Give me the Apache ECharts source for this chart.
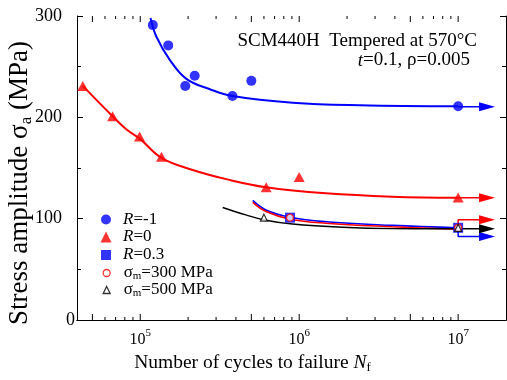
<!DOCTYPE html>
<html>
<head>
<meta charset="utf-8">
<script src="https://cdn.jsdelivr.net/npm/echarts@6/dist/echarts.min.js"></script>
<style>
  html, body {margin: 0; padding: 0; background: #fff;}
  #main {width: 507px; height: 380px;}
</style>
</head>
<body>
<div id="main"></div>
<script>
const FONT = 'Liberation Serif';
const BLUE = '#0000ff';
const RED = '#ff0000';

// measured points [cycles, stress amplitude MPa]
const rm1Points = [[1.2e5, 291], [1.5e5, 271], [1.92e5, 231], [2.2e5, 241], [3.8e5, 221], [5.0e5, 236], [1e7, 211]];
const r0Points = [[4.35e4, 231], [6.7e4, 201], [9.9e4, 181], [1.36e5, 161], [6.2e5, 131], [1e6, 141], [1e7, 121]];
const r03Points = [[8.75e5, 101], [1e7, 91]];
const sm300Points = [[8.75e5, 101], [1e7, 91]];
const sm500Points = [[6.0e5, 101], [1e7, 91]];

// fitted curves
const rm1Curve = [[1.16e5, 298], [1.26e5, 280], [1.53e5, 257], [1.95e5, 238], [2.72e5, 228], [3.81e5, 221], [9.1e5, 214.5], [2.4e6, 212], [1e7, 211]];
const r0Curve = [[4.35e4, 231], [6.7e4, 201], [8.2e4, 188], [1.0e5, 178.5], [1.36e5, 160], [2.14e5, 148], [3.47e5, 139], [6.18e5, 131], [1.47e6, 125], [3.85e6, 121.7], [1e7, 120.7]];
const r03Curve = [[5.1e5, 118], [6.18e5, 108.6], [8.75e5, 101.4], [1.47e6, 97], [3.85e6, 93.4], [1e7, 91]];
const sm300Curve = [[5.1e5, 116], [6.18e5, 107], [8.75e5, 99.5], [1.47e6, 95.5], [3.85e6, 92], [1e7, 89.5]];
const sm500Curve = [[3.3e5, 111], [4.62e5, 103.7], [6.03e5, 98.7], [9.08e5, 94.7], [1.87e6, 91.5], [3.85e6, 90.2], [1e7, 90]];

// run-out arrows
const arrowTip = 1.52e7;
const rm1Arrow = [[1e7, 210.5], [arrowTip, 210.5]];
const r0Arrow = [[1e7, 120.7], [arrowTip, 120.7]];
const r03Arrow = [[1e7, 91], [1e7, 82.5], [arrowTip, 82.5]];
const sm300Arrow = [[1e7, 91], [1e7, 99], [arrowTip, 99]];
const sm500Arrow = [[1e7, 90], [arrowTip, 90]];

// x ticks
const xMajorTicks = [5e4, 1e5, 5e5, 1e6, 5e6, 1e7];
const xMinorTicks = [6e4, 7e4, 8e4, 9e4, 2e5, 3e5, 4e5, 6e5, 7e5, 8e5, 9e5, 2e6, 3e6, 4e6, 6e6, 7e6, 8e6, 9e6];

const legendText = {
  'R=-1': '{i|R}=-1',
  'R=0': '{i|R}=0',
  'R=0.3': '{i|R}=0.3',
  'σm=300 MPa': 'σ{s|m}=300 MPa',
  'σm=500 MPa': 'σ{s|m}=500 MPa'
};
const legendRows = [['R=-1', 10], ['R=0', 11], ['R=0.3', 10], ['σm=300 MPa', 7], ['σm=500 MPa', 7]];
const legendTops = [211, 228.5, 246.5, 264.5, 281.5];

const richLegend = {
  i: {fontFamily: FONT, fontSize: 17, fontStyle: 'italic', color: '#000', lineHeight: 20},
  s: {fontFamily: FONT, fontSize: 11, color: '#000', lineHeight: 11, verticalAlign: 'bottom'}
};

const chart = echarts.init(document.getElementById('main'));

const lineSeries = (name, data, color, width) => ({
  name, type: 'line', data, smooth: 0.4, showSymbol: false, silent: true,
  lineStyle: {color, width}, itemStyle: {color}, z: 2
});

const arrowSeries = (name, data, color) => ({
  name, type: 'line', silent: true, z: 2,
  data: data.map((p, i) => i === data.length - 1
    ? {value: p, symbol: 'triangle', symbolSize: [9, 16], symbolRotate: -90}
    : {value: p, symbol: 'none'}),
  lineStyle: {color, width: 1.5}, itemStyle: {color}
});

chart.setOption({
  animation: false,
  grid: {left: 77, right: 1, top: 16, bottom: 60, containLabel: false, outerBoundsMode: 'none'},
  xAxis: [
    {
      type: 'log', logBase: 10, min: 4e4, max: 2e7, position: 'bottom',
      axisLine: {lineStyle: {color: '#000', width: 1}},
      axisTick: {show: false}, splitLine: {show: false}, minorTick: {show: false},
      axisLabel: {
        margin: 8,
        formatter(v) {
          const e = Math.log10(v);
          if (Math.abs(e - Math.round(e)) < 1e-6 && v > 4.1e4 && v < 1.9e7) {
            return '{b|10}{p|' + Math.round(e) + '}';
          }
          return '';
        },
        rich: {
          b: {fontFamily: FONT, fontSize: 16, color: '#000', lineHeight: 20, verticalAlign: 'bottom'},
          p: {fontFamily: FONT, fontSize: 11, color: '#000', lineHeight: 12, verticalAlign: 'top'}
        }
      },
      name: '{t|Number of cycles to failure }{i|N}{s|f}',
      nameLocation: 'middle', nameGap: 17,
      nameTextStyle: {
        padding: [0, 78, 0, 0],
        rich: {
          t: {fontFamily: FONT, fontSize: 19.5, color: '#000', lineHeight: 22},
          i: {fontFamily: FONT, fontSize: 19.5, fontStyle: 'italic', color: '#000', lineHeight: 22},
          s: {fontFamily: FONT, fontSize: 13, color: '#000', lineHeight: 13, verticalAlign: 'bottom'}
        }
      }
    },
    {
      type: 'log', logBase: 10, min: 4e4, max: 2e7, position: 'top',
      axisLine: {lineStyle: {color: '#000', width: 1}},
      axisTick: {show: false}, axisLabel: {show: false}, splitLine: {show: false}
    }
  ],
  yAxis: [
    {
      type: 'value', min: 0, max: 300, interval: 100, position: 'left',
      axisLine: {show: true, lineStyle: {color: '#000', width: 1}},
      axisTick: {show: true, inside: true, length: 6, lineStyle: {color: '#000'}},
      minorTick: {show: true, splitNumber: 2, length: 4, lineStyle: {color: '#000'}},
      splitLine: {show: false},
      axisLabel: {
        margin: 2,
        formatter: v => v === 0 ? '{z|0}' : '{p|' + v + '}',
        rich: {
          p: {fontFamily: FONT, fontSize: 18, color: '#000', width: 40, align: 'left'},
          z: {fontFamily: FONT, fontSize: 18, color: '#000'}
        }
      },
      name: '{t|Stress amplitude σ}{s|a}{t| (MPa)}',
      nameLocation: 'middle', nameGap: 42, nameRotate: 90, nameMoveOverlap: false,
      nameTextStyle: {
        padding: [0, 30, 0, 0],
        rich: {
          t: {fontFamily: FONT, fontSize: 27, color: '#000', lineHeight: 30},
          s: {fontFamily: FONT, fontSize: 17, color: '#000', lineHeight: 17, verticalAlign: 'bottom'}
        }
      }
    },
    {
      type: 'value', min: 0, max: 300, interval: 100, position: 'right',
      axisLine: {show: true, lineStyle: {color: '#000', width: 1}},
      axisTick: {show: true, inside: true, length: 6, lineStyle: {color: '#000'}},
      minorTick: {show: true, splitNumber: 2, length: 4, lineStyle: {color: '#000'}},
      splitLine: {show: false}, axisLabel: {show: false}
    }
  ],
  legend: legendRows.map(([name, size], k) => ({
    data: [{name, itemStyle: name.startsWith('σ') ? {borderWidth: 1.3} : {}}],
    orient: 'vertical', left: 106 - size / 2, top: legendTops[k], padding: 0,
    itemWidth: size, itemHeight: size, selectedMode: false,
    formatter: n => legendText[n],
    textStyle: {fontFamily: FONT, fontSize: 17, color: '#000', padding: [0, 0, 0, 12 - size / 2], rich: richLegend}
  })),
  graphic: [
    {
      type: 'text', right: 30, top: 32,
      style: {text: 'SCM440H  Tempered at 570°C', fontFamily: FONT, fontSize: 19, fill: '#000'}
    },
    {
      type: 'text', right: 37, top: 51,
      style: {
        text: '{i|t}=0.1, ρ=0.005', fontFamily: FONT, fontSize: 19, fill: '#000',
        rich: {i: {fontFamily: FONT, fontSize: 19, fontStyle: 'italic', fill: '#000'}}
      }
    }
  ],
  series: [
    {
      type: 'custom', silent: true, z: 1,
      data: xMajorTicks.map(v => [v, 1]).concat(xMinorTicks.map(v => [v, 0])),
      encode: {x: 0, y: 1},
      renderItem(params, api) {
        const v = api.value(0);
        const len = api.value(1) ? 6 : 3;
        const b = api.coord([v, 0]);
        const t = api.coord([v, 300]);
        return {
          type: 'group',
          children: [
            {type: 'line', shape: {x1: b[0], y1: b[1], x2: b[0], y2: b[1] - len}, style: {stroke: '#000', lineWidth: 1}},
            {type: 'line', shape: {x1: t[0], y1: t[1], x2: t[0], y2: t[1] + len}, style: {stroke: '#000', lineWidth: 1}}
          ]
        };
      }
    },
    lineSeries('fit R=-1', rm1Curve, BLUE, 2),
    lineSeries('fit R=0', r0Curve, RED, 2),
    lineSeries('fit R=0.3', r03Curve, BLUE, 1.6),
    lineSeries('fit 300', sm300Curve, RED, 1.6),
    lineSeries('fit 500', sm500Curve, '#000', 1.4),
    arrowSeries('arrow R=-1', rm1Arrow, BLUE),
    arrowSeries('arrow R=0', r0Arrow, RED),
    arrowSeries('arrow R=0.3', r03Arrow, BLUE),
    arrowSeries('arrow 300', sm300Arrow, RED),
    arrowSeries('arrow 500', sm500Arrow, '#000'),
    {name: 'R=-1', type: 'scatter', data: rm1Points, symbol: 'circle', symbolSize: 10, itemStyle: {color: BLUE}, z: 3},
    {name: 'R=0', type: 'scatter', data: r0Points, symbol: 'triangle', symbolSize: [11, 10], itemStyle: {color: RED}, z: 3},
    {name: 'R=0.3', type: 'scatter', data: r03Points, symbol: 'rect', symbolSize: 10, itemStyle: {color: BLUE}, z: 3},
    {name: 'σm=300 MPa', type: 'scatter', data: sm300Points, symbol: 'circle', symbolSize: 7,
      itemStyle: {color: '#fff', borderColor: RED, borderWidth: 1.3}, z: 4},
    {name: 'σm=500 MPa', type: 'scatter', data: sm500Points, symbol: 'triangle', symbolSize: 7,
      itemStyle: {color: '#fff', borderColor: '#000', borderWidth: 1.2}, z: 5}
  ]
});
</script>
</body>
</html>
